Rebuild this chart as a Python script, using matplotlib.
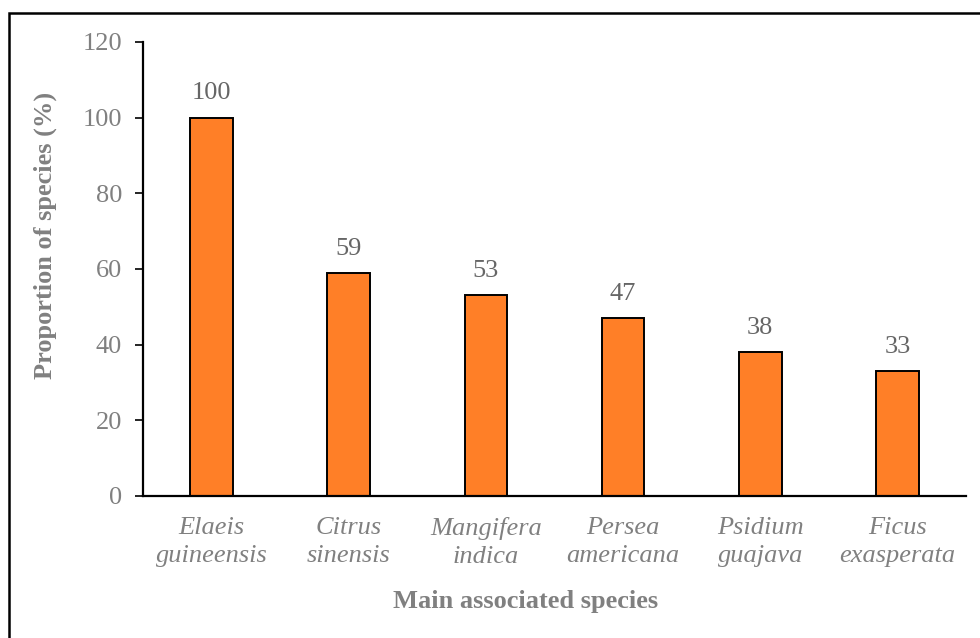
import matplotlib
matplotlib.use('Agg')
from matplotlib import pyplot as plt
from matplotlib.patches import Rectangle

species = ['Elaeis\nguineensis', 'Citrus\nsinensis', 'Mangifera\nindica',
           'Persea\namericana', 'Psidium\nguajava', 'Ficus\nexasperata']
proportion = [100, 59, 53, 47, 38, 33]
yticks = [0, 20, 40, 60, 80, 100, 120]

plt.rcParams['font.family'] = ['Liberation Serif', 'DejaVu Serif']

fig = plt.figure(figsize=(9.8, 6.38), dpi=100)
ax = fig.add_axes([143/980, 1-496/638, (966-143)/980, (496-42)/638])

x = range(len(species))
bars = ax.bar(x, proportion, width=0.31, color='#FF7F27', edgecolor='black',
              linewidth=1.4, zorder=2)
for xi, v in zip(x, proportion):
    ax.annotate(str(v), (xi, v), xytext=(0, 9.5), textcoords='offset points',
                ha='center', va='bottom', fontsize=19, color='#666666')

ax.set_xlim(-0.5, 5.5)
ax.set_ylim(0, 120)
ax.set_yticks(yticks)
ax.tick_params(axis='y', direction='out', length=6, width=1.2, pad=9,
               labelsize=19, labelcolor='#808080')
ax.set_xticks(list(x))
ax.set_xticklabels(species, fontstyle='italic', fontsize=19, color='#808080',
                   linespacing=1.38)
ax.tick_params(axis='x', length=0, pad=15)

for s in ['top', 'right']:
    ax.spines[s].set_visible(False)
for s in ['left', 'bottom']:
    ax.spines[s].set_linewidth(1.6)
    ax.spines[s].set_color('black')

ax.set_ylabel('Proportion of species (%)', fontsize=19, fontweight='bold',
              color='#808080')
ax.yaxis.set_label_coords(-0.104, 0.575)
ax.set_xlabel('Main associated species', fontsize=19, fontweight='bold',
              color='#808080')
ax.xaxis.set_label_coords(0.4645, -0.206)

# outer frame (cropped on right and bottom)
fig.patches.append(Rectangle((8.5/980, -0.1), 1.2, 0.1 + 1 - 12.5/638,
                             transform=fig.transFigure, fill=False,
                             edgecolor='black', linewidth=1.8))

fig.savefig('out.png', dpi=100)
